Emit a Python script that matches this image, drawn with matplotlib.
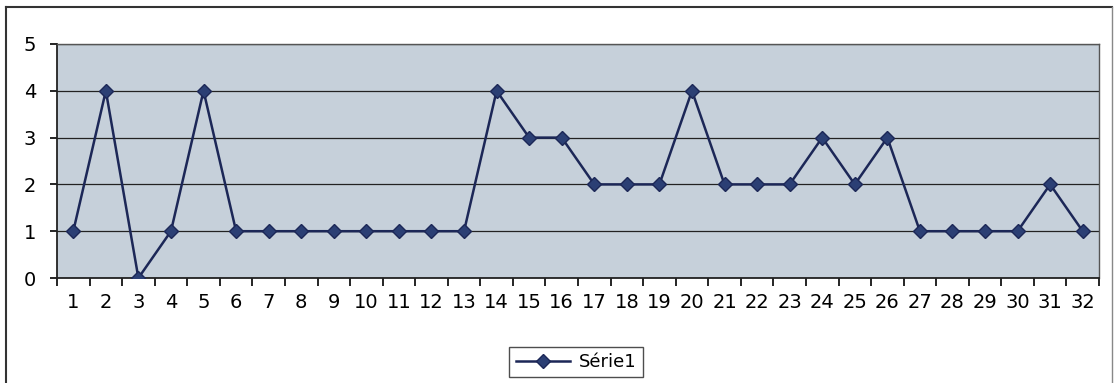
import matplotlib
matplotlib.use("Agg")
import matplotlib.pyplot as plt
from matplotlib.lines import Line2D

# valeurs de la serie
categories = list(range(1, 33))
serie1 = [1, 4, 0, 1, 4, 1, 1, 1, 1, 1, 1, 1, 1, 4, 3, 3, 2, 2, 2, 4,
          2, 2, 2, 3, 2, 3, 1, 1, 1, 1, 2, 1]

fig = plt.figure(figsize=(11.14, 3.83), dpi=100)
ax = fig.add_axes([57/1114, 1-278/383, (1099-57)/1114, (278-44)/383])
ax.set_facecolor("#c6d0da")

ax.plot(categories, serie1, color="#1c2757", lw=1.8, marker="D",
        markersize=7.5, markerfacecolor="#2b3f74", markeredgecolor="#1c2757",
        label="Série1", zorder=3)

ax.set_xlim(0.5, 32.5)
ax.set_ylim(0, 5)
ax.set_yticks(range(0, 6))
ax.set_xticks(categories)
ax.set_xticks([c + 0.5 for c in range(0, 33)], minor=True)
ax.tick_params(axis="x", which="major", length=0, pad=11, labelsize=14)
ax.tick_params(axis="x", which="minor", length=6, width=1.2, direction="out")
ax.tick_params(axis="y", length=5, width=1.2, pad=10, labelsize=14)
ax.yaxis.grid(True, color="#222222", lw=0.9)
ax.set_axisbelow(True)

for s in ["left", "bottom"]:
    ax.spines[s].set_color("#222222")
    ax.spines[s].set_linewidth(1.3)
for s in ["top", "right"]:
    ax.spines[s].set_color("#555555")
    ax.spines[s].set_linewidth(1.0)

leg = fig.legend(loc="center", bbox_to_anchor=(576/1114, 1-362/383),
                 fontsize=13, frameon=True, fancybox=False, edgecolor="#222222",
                 handlelength=3.0, borderpad=0.35, handletextpad=0.5)
leg.get_frame().set_linewidth(1.0)

# cadre exterieur du graphique
fig.add_artist(Line2D([6/1114, 6/1114], [0, 1-7/383], color="#333333", lw=1.5))
fig.add_artist(Line2D([6/1114, 1112/1114], [1-7/383, 1-7/383], color="#333333", lw=1.5))
fig.add_artist(Line2D([1112/1114, 1112/1114], [0, 1-7/383], color="#888888", lw=1.0))

fig.savefig("out.png", dpi=100)
